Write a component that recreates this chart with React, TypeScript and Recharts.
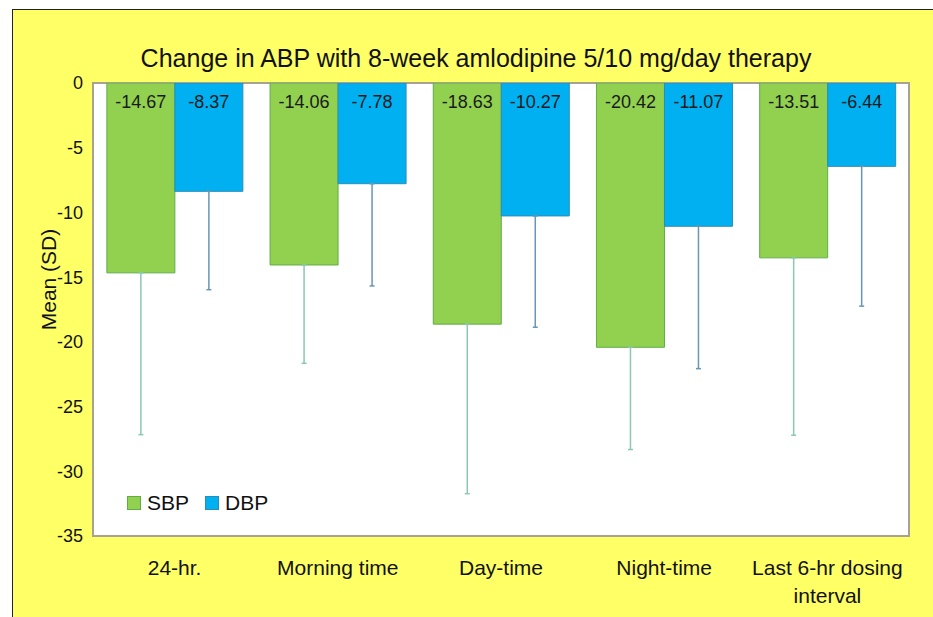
import {
  BarChart,
  Bar,
  XAxis,
  YAxis,
  CartesianGrid,
  ErrorBar,
  ReferenceArea,
} from "recharts";

const FONT = '"Liberation Sans", Arial, sans-serif';

const CATEGORIES = [
  "24-hr.",
  "Morning time",
  "Day-time",
  "Night-time",
  "Last 6-hr dosing interval",
];
// how each category label is broken onto lines under the axis
const CATEGORY_LINES = [
  ["24-hr."],
  ["Morning time"],
  ["Day-time"],
  ["Night-time"],
  ["Last 6-hr dosing", "interval"],
];
const SBP_MEAN = [-14.67, -14.06, -18.63, -20.42, -13.51];
const DBP_MEAN = [-8.37, -7.78, -10.27, -11.07, -6.44];
// SD read from the whisker ends (whiskers only go downward)
const SBP_SD = [12.5, 7.6, 13.1, 7.9, 13.7];
const DBP_SD = [7.6, 7.9, 8.6, 11.0, 10.8];
const Y_TICKS = [0, -5, -10, -15, -20, -25, -30, -35];

const SERIES = [
  { key: "sbp", name: "SBP", fill: "#92D050", stroke: "#5FAE45", err: "#8CC7B3" },
  { key: "dbp", name: "DBP", fill: "#00B0F0", stroke: "#2A8DB8", err: "#6797B2" },
];

const chartData = CATEGORIES.map((name, i) => ({
  name,
  sbp: SBP_MEAN[i],
  dbp: DBP_MEAN[i],
  sbpErr: [SBP_SD[i], 0],
  dbpErr: [DBP_SD[i], 0],
}));

function ValueLabel(props: any) {
  const { x, y, width, height, value } = props;
  const top = Math.min(y, y + height);
  return (
    <text
      x={x + width / 2}
      y={top + 24.5}
      textAnchor="middle"
      fontSize={18}
      fontFamily={FONT}
      fill="#1a1a1a"
    >
      {value.toFixed(2)}
    </text>
  );
}

function CategoryTick({ x, y, payload }: any) {
  const idx = CATEGORIES.indexOf(payload.value);
  const lines = CATEGORY_LINES[idx] ?? [payload.value];
  return (
    <text x={x} y={y} textAnchor="middle" fontSize={21} fontFamily={FONT} fill="#111">
      {lines.map((line, i) => (
        <tspan key={i} x={x} dy={i === 0 ? "0.71em" : 28}>
          {line}
        </tspan>
      ))}
    </text>
  );
}

function YLabel({ viewBox }: any) {
  const cx = 48;
  const cy = viewBox.y + viewBox.height / 2 - 30;
  return (
    <text
      x={cx}
      y={cy}
      transform={`rotate(-90 ${cx} ${cy})`}
      textAnchor="middle"
      dominantBaseline="central"
      fontSize={21}
      fontFamily={FONT}
      fill="#111"
    >
      Mean (SD)
    </text>
  );
}

function LegendBox() {
  return (
    <div
      style={{
        position: "absolute",
        left: 127,
        top: 490,
        display: "flex",
        alignItems: "center",
        fontFamily: FONT,
        fontSize: 21,
        lineHeight: "26px",
        color: "#111",
      }}
    >
      {SERIES.map((s) => (
        <div key={s.key} style={{ display: "flex", alignItems: "center", marginRight: 16 }}>
          <span
            style={{
              display: "inline-block",
              width: 12,
              height: 12,
              background: s.fill,
              border: `1px solid ${s.stroke}`,
              marginRight: 6,
            }}
          />
          {s.name}
        </div>
      ))}
    </div>
  );
}

export default function App() {
  return (
    <div
      style={{
        position: "fixed",
        left: 0,
        top: 0,
        width: 933,
        height: 617,
        background: "#fff",
        overflow: "hidden",
      }}
    >
      <div
        style={{
          position: "absolute",
          left: 12,
          top: 9,
          right: 0,
          bottom: 0,
          background: "#FFFF66",
          borderTop: "1.5px solid #222",
          borderLeft: "1.5px solid #222",
        }}
      />
      <div
        style={{
          position: "absolute",
          left: 476,
          top: 46,
          transform: "translateX(-50%)",
          whiteSpace: "nowrap",
          fontFamily: FONT,
          fontSize: 25,
          lineHeight: "25px",
          color: "#111",
        }}
      >
        Change in ABP with 8-week amlodipine 5/10 mg/day therapy
      </div>
      <div style={{ position: "absolute", left: 0, top: 0 }}>
        <BarChart
          width={933}
          height={617}
          data={chartData}
          margin={{ top: 83, right: 24, bottom: 21, left: 0 }}
          barCategoryGap="8.5%"
          barGap={0}
        >
          <CartesianGrid fill="#ffffff" horizontal={false} vertical={false} />
          <ReferenceArea y1={-35} y2={0} fill="none" stroke="#A8A290" strokeWidth={2} />
          <XAxis
            dataKey="name"
            height={60}
            tickLine={false}
            axisLine={false}
            tickSize={6}
            tickMargin={18}
            interval={0}
            tick={<CategoryTick />}
          />
          <YAxis
            width={93}
            domain={[-35, 0]}
            ticks={Y_TICKS}
            allowDataOverflow
            tickLine={false}
            axisLine={false}
            tickMargin={4}
            tick={{ fontSize: 18, fill: "#111", fontFamily: FONT }}
            label={<YLabel />}
          />
          {SERIES.map((s) => (
            <Bar
              key={s.key}
              dataKey={s.key}
              name={s.name}
              fill={s.fill}
              stroke={s.stroke}
              strokeWidth={1}
              isAnimationActive={false}
              label={<ValueLabel />}
            >
              <ErrorBar dataKey={`${s.key}Err`} direction="y" width={2.5} stroke={s.err} strokeWidth={1.5} />
            </Bar>
          ))}
        </BarChart>
      </div>
      <LegendBox />
    </div>
  );
}
